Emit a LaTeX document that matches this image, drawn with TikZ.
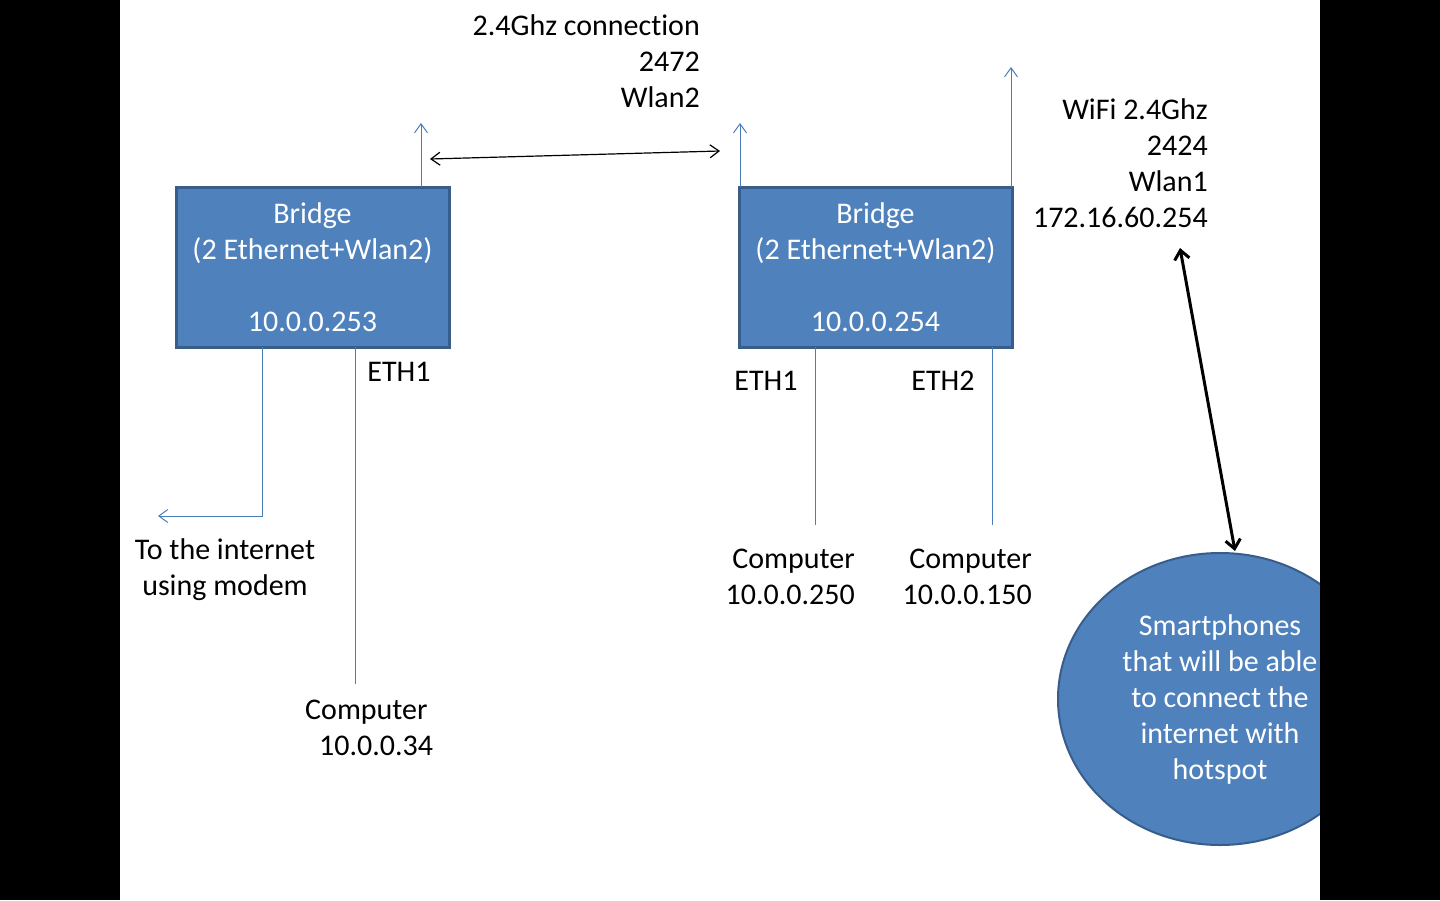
\documentclass[tikz,border=0pt]{standalone}
\usepackage{fontspec}
\setmainfont{Carlito}[Ligatures={NoCommon}]
\usetikzlibrary{arrows.meta,shapes.geometric}
\definecolor{boxfill}{HTML}{4F81BD}
\definecolor{boxedge}{HTML}{385D8A}
\definecolor{wire}{HTML}{4A7EBB}
\tikzset{
  txt/.style={inner sep=0pt, font=\fontsize{30}{36}\selectfont, text=black},
  bridge/.style={draw=boxedge, line width=3pt, fill=boxfill, minimum width=273pt, minimum height=160pt, inner sep=0pt, align=center, text=white, font=\fontsize{30}{36}\selectfont},
  wireline/.style={draw=wire, line width=1pt},
  wirearrow/.style={wireline, -{Straight Barb[length=9pt,width=13pt,line width=1pt]}},
  radiolink/.style={draw=black, line width=1.2pt, {Straight Barb[length=9pt,width=13pt]}-{Straight Barb[length=9pt,width=13pt]}},
  hotlink/.style={draw=black, line width=3pt, {Straight Barb[length=9pt,width=15pt]}-{Straight Barb[length=9pt,width=15pt]}},
  phones/.style={ellipse, draw=boxedge, line width=2pt, fill=boxfill, minimum width=324pt, minimum height=292pt, inner sep=0pt, align=center, text=white, font=\fontsize{30}{36}\selectfont},
}
\begin{document}
\begin{tikzpicture}[x=1pt,y=-1pt]
\useasboundingbox (0,0) rectangle (1440,900);
\fill[white] (0,0) rectangle (1440,900);

% bridges
\node[bridge] (br1) at (312.5,267) {Bridge\\(2 Ethernet+Wlan2)\\~\\10.0.0.253};
\node[bridge] (br2) at (875.5,267) {Bridge\\(2 Ethernet+Wlan2)\\~\\10.0.0.254};

% antennas
\coordinate (a1b) at (421,187); \coordinate (a1t) at (421,123);
\coordinate (a2b) at (740,187); \coordinate (a2t) at (740,123);
\coordinate (a3b) at (1011,187); \coordinate (a3t) at (1011,67);
\draw[wirearrow] (a1b) -- (a1t);
\draw[wirearrow] (a2b) -- (a2t);
\draw[wirearrow] (a3b) -- (a3t);

% radio link
\coordinate (r1) at (430,159); \coordinate (r2) at (720,151);
\draw[radiolink] (r1) -- (r2);

\node[txt, align=right, anchor=east] (radio) at (700,61) {2.4Ghz connect\kern0pt ion\\2472\\Wlan2};
\node[txt, align=right, anchor=east] (wifi) at (1208,163) {WiFi 2.4Ghz\\2424\\Wlan1\\172.16.60.254};

% bridge 1 wires
\coordinate (w1a) at (262,347); \coordinate (w1b) at (262,516); \coordinate (w1c) at (158,516);
\draw[wirearrow] (w1a) -- (w1b) -- (w1c);
\coordinate (w2a) at (355,347); \coordinate (w2b) at (355,684);
\draw[wireline] (w2a) -- (w2b);
\node[txt] (eth1a) at (399,372) {ETH1};
\node[txt, align=center] (inet) at (225,570) {To the internet\\using modem};
\node[txt, align=left, anchor=west] (pc1) at (305,728) {Computer\\\hspace*{14pt}10.0.0.34};

% bridge 2 wires
\coordinate (w3a) at (815,347); \coordinate (w3b) at (815,525);
\coordinate (w4a) at (992,347); \coordinate (w4b) at (992,525);
\draw[wireline] (w3a) -- (w3b);
\draw[wireline] (w4a) -- (w4b);
\node[txt] (eth1b) at (766,381) {ETH1};
\node[txt] (eth2b) at (943,381) {ETH2};
\node[txt, align=right, anchor=east] (pc2) at (855,577) {Computer\\10.0.0.250};
\node[txt, align=right, anchor=east] (pc3) at (1032,577) {Computer\\10.0.0.150};

% smartphones
\node[phones] (ph) at (1220,699) {Smartphones\\that will be able\\to connect the\\internet with\\hotspot};
\coordinate (h1) at (1180,248); \coordinate (h2) at (1235,551);
\draw[hotlink] (h1) -- (h2);

% side bars
\fill[black] (0,0) rectangle (120,900);
\fill[black] (1320,0) rectangle (1440,900);
\end{tikzpicture}
\end{document}
